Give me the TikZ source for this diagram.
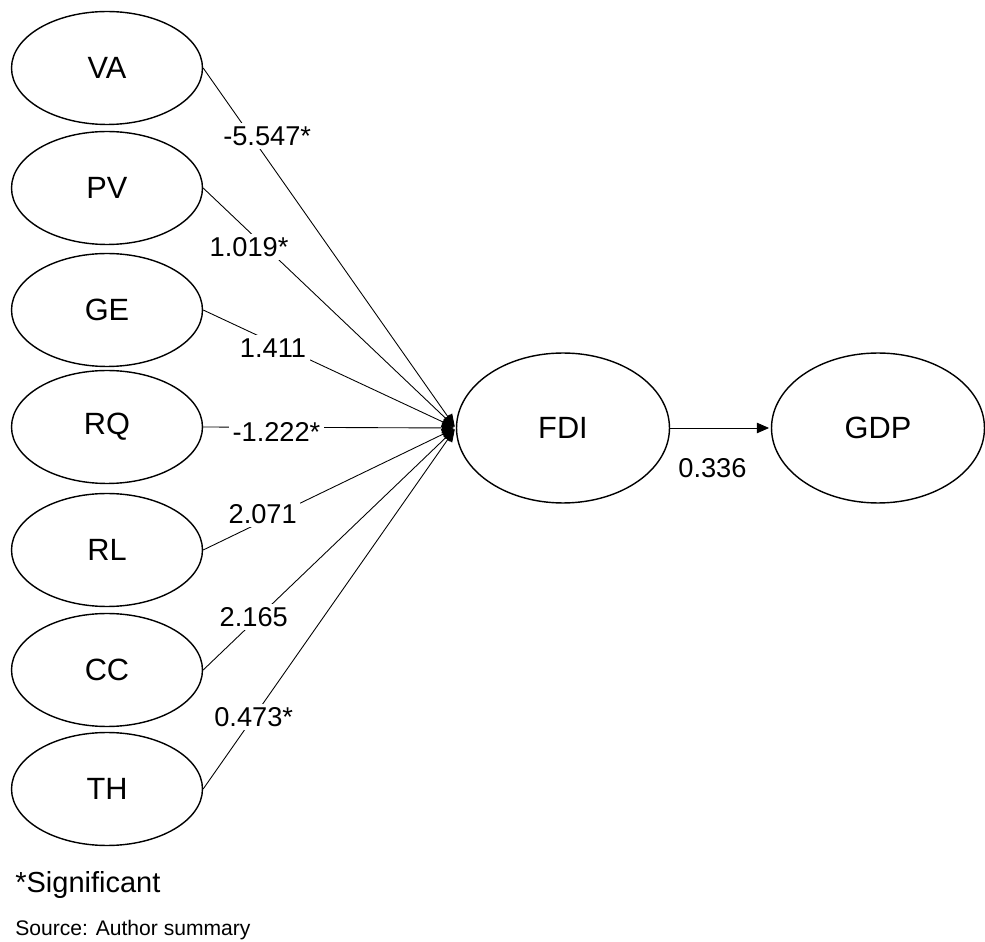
\documentclass[tikz,border=0pt]{standalone}
\usepackage{fontspec}
\setmainfont{Liberation Sans}
\usepackage{tikz}
\usetikzlibrary{arrows.meta,shapes.geometric}

\begin{document}
\begin{tikzpicture}[x=0.02cm,y=-0.02cm,>={Triangle[length=7pt,width=6pt]},
  latent/.style={draw,thick,ellipse,inner sep=0pt,minimum width=3.82cm,minimum height=2.26cm,
    font=\fontsize{17.5}{20}\selectfont},
  bigvar/.style={latent,minimum width=4.26cm,minimum height=3cm},
  coef/.style={fill=white,inner sep=2pt,font=\fontsize{15.5}{18}\selectfont},
  effect/.style={->,line width=0.5pt,shorten >=1pt}]
  \useasboundingbox (0,0) rectangle (985,942);
  % governance indicators
  \node[latent] (va) at (107,68) {VA};
  \node[latent] (pv) at (107,188) {PV};
  \node[latent] (ge) at (107,310) {GE};
  \node[latent] (rq) at (107,427) {RQ};
  \node[latent] (rl) at (107,550) {RL};
  \node[latent] (cc) at (107,670) {CC};
  \node[latent] (th) at (107,789) {TH};
  % FDI and growth
  \node[bigvar] (fdi) at (563,428) {FDI};
  \node[bigvar] (gdp) at (878,428) {GDP};
  % paths into FDI
  \draw[effect] (va.east) -- (fdi.west) node[coef,pos=.19,xshift=.32cm] {-5.547*};
  \draw[effect] (pv.east) -- (fdi.west) node[coef,pos=.245,xshift=-.32cm] {1.019*};
  \draw[effect] (ge.east) -- (fdi.west) node[coef,pos=.32,xshift=-.22cm] {1.411};
  \draw[effect] (rq.east) -- (fdi.west) node[coef,pos=.29,yshift=-.1cm] {-1.222*};
  \draw[effect] (rl.east) -- (fdi.west) node[coef,pos=.295,xshift=-.3cm] {2.071};
  \draw[effect] (cc.east) -- (fdi.west) node[coef,pos=.22,xshift=-.1cm] {2.165};
  \draw[effect] (th.east) -- (fdi.west) node[coef,pos=.2] {0.473*};
  % FDI to GDP
  \draw[effect] (fdi) -- (gdp) node[coef,pos=.42,below=15pt] {0.336};
  % notes
  \node[anchor=west,inner sep=0pt,font=\fontsize{16.5}{19}\selectfont] (sig) at (15,885) {*Significant};
  \node[anchor=west,inner sep=0pt,font=\fontsize{12}{14}\selectfont] (src) at (15,930) {Source: Author summary};
\end{tikzpicture}
\end{document}
